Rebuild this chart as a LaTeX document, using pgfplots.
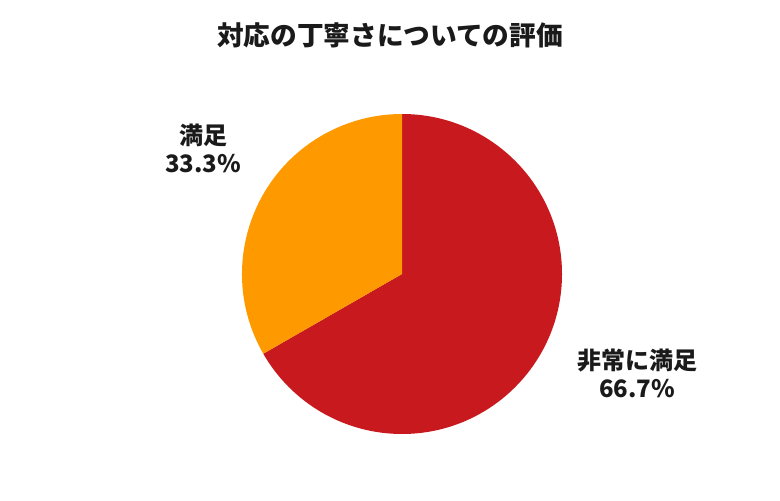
\documentclass[border=0pt]{standalone}
\usepackage{pgfplots}
\usepackage{pgfplotstable}
\pgfplotsset{compat=1.18}
\usepackage{fontspec}
\setmainfont{Noto Sans CJK JP}
\definecolor{pieRed}{HTML}{C8191E}
\definecolor{pieOrange}{HTML}{FF9900}
\definecolor{txt}{HTML}{1A1A1A}

\pgfplotstableread[col sep=comma]{
label,value
非常に満足,66.7
満足,33.3
}\piedata

\pgfplotstablegetelem{0}{value}\of\piedata \let\valA\pgfplotsretval
\pgfplotstablegetelem{1}{value}\of\piedata \let\valB\pgfplotsretval
\pgfmathsetmacro\angA{90-3.6*\valA}
\pgfmathsetmacro\angB{\angA-3.6*\valB}

\begin{document}
\begin{tikzpicture}
\begin{axis}[
scale only axis,
width=585pt, height=375pt,
xmin=0, xmax=780, ymin=0, ymax=500,
hide axis,
clip=false,
]
\path (axis cs:0,0) rectangle (axis cs:780,500);
% slices, clockwise from the top, radius 160 px = 120pt
\fill[pieRed] (axis cs:402,226) -- ++(90:120pt) arc[start angle=90, end angle=\angA, radius=120pt] -- cycle;
\fill[pieOrange] (axis cs:402,226) -- ++(\angA:120pt) arc[start angle=\angA, end angle=\angB, radius=120pt] -- cycle;

\node[font=\fontsize{20}{23}\selectfont\bfseries, text=txt] at (axis cs:390,465) {対応の丁寧さについての評価};
\node[font=\fontsize{18}{21}\selectfont\bfseries, text=txt, align=center] at (axis cs:203,352) {満足\\33.3\%};
\node[font=\fontsize{18}{21}\selectfont\bfseries, text=txt, align=center] at (axis cs:637,127) {非常に満足\\66.7\%};
\end{axis}
\end{tikzpicture}
\end{document}
